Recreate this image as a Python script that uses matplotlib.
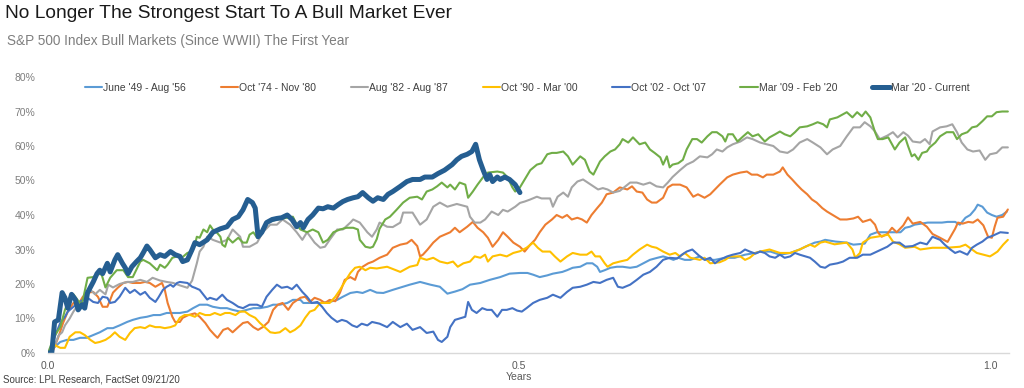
import matplotlib
matplotlib.use('Agg')
import matplotlib.pyplot as plt
from matplotlib.ticker import FuncFormatter

plt.rcParams['font.family'] = ['Liberation Sans', 'DejaVu Sans']

# (years since start, % gain)
jun49 = [(0, 0), (.007, 1.7), (.013, 3.2), (.020, 3.8), (.027, 3.8), (.034, 4.4), (.041, 4.4), (.048, 5.2), (.055, 6), (.063, 7.2),
         (.069, 7.2), (.076, 8), (.084, 9), (.090, 9.6), (.098, 10.2), (.105, 10.5), (.112, 11), (.119, 11), (.126, 11.6), (.133, 11.6),
         (.140, 11.6), (.148, 12), (.154, 13), (.161, 14), (.169, 14), (.175, 13.4), (.183, 13), (.190, 13), (.196, 12.5), (.204, 12),
         (.211, 12.5), (.218, 13), (.225, 13), (.233, 13.4), (.239, 14), (.246, 14), (.254, 14.5), (.260, 15.4), (.268, 15.4), (.271, 14.5),
         (.278, 14.5), (.289, 14.5), (.299, 14.8), (.307, 15.4), (.313, 16.3), (.321, 17.4), (.328, 17.7), (.334, 17.4), (.342, 18.3), (.349, 17.5),
         (.356, 17.4), (.366, 18.3), (.377, 19.2), (.384, 19.8), (.395, 20.6), (.406, 19.8), (.416, 19.2), (.424, 17.2), (.432, 17.8), (.440, 18.5),
         (.448, 19.8), (.459, 20.3), (.469, 21.2), (.480, 22), (.490, 23), (.501, 23.2), (.509, 23.2), (.515, 22.7), (.522, 22), (.530, 22.5),
         (.536, 23), (.546, 23.5), (.551, 24), (.557, 24.7), (.565, 25), (.572, 26), (.578, 26), (.583, 25), (.586, 23.5), (.591, 24),
         (.597, 24.7), (.604, 25), (.610, 25), (.618, 24.7), (.625, 25), (.632, 26), (.639, 27), (.647, 27.6), (.653, 28), (.658, 27.6),
         (.664, 27), (.669, 27.6), (.676, 27), (.682, 27), (.692, 28), (.698, 27), (.708, 27), (.719, 27.6), (.729, 27.6), (.740, 28.5),
         (.751, 29), (.756, 29.4), (.767, 29.4), (.777, 28.5), (.788, 29), (.798, 30), (.804, 30.8), (.809, 31.4), (.814, 32), (.820, 32.3),
         (.825, 32.8), (.836, 32.3), (.848, 32), (.855, 31.4), (.867, 31.7), (.873, 34.3), (.880, 35), (.894, 35), (.905, 35), (.910, 36.3),
         (.915, 36.6), (.920, 37.2), (.934, 37.8), (.949, 37.8), (.955, 38), (.963, 38), (.968, 37.2), (.974, 39.2), (.979, 40), (.984, 41.6),
         (.987, 43), (.992, 42.4), (.997, 40.7), (1.002, 40), (1.007, 39.5), (1.013, 40), (1.018, 41)]

oct74 = [(0, 0), (.005, .5), (.011, 4.6), (.016, 8.7), (.021, 12), (.027, 14.5), (.032, 14), (.037, 16.3), (.042, 17.5), (.048, 17.7),
         (.053, 16.3), (.058, 13.4), (.063, 13.4), (.066, 15.4), (.069, 17.5), (.074, 18.9), (.080, 20.3), (.085, 20.6), (.090, 20.3), (.098, 20.3),
         (.103, 20.6), (.108, 20.3), (.114, 19.2), (.121, 20.3), (.124, 18.3), (.127, 14.5), (.132, 10.5), (.135, 9), (.140, 9), (.143, 10.2),
         (.149, 11), (.156, 11.5), (.161, 10.5), (.167, 8.7), (.172, 6.7), (.177, 5.2), (.180, 4.4), (.186, 6.7), (.191, 7.2), (.196, 6),
         (.202, 7.5), (.207, 8.7), (.212, 9), (.218, 7.5), (.223, 6.7), (.228, 7.5), (.234, 9), (.239, 12.5), (.244, 14), (.249, 14.5),
         (.255, 12.5), (.260, 14.5), (.268, 16), (.273, 16.3), (.278, 14.8), (.283, 16), (.289, 15.4), (.294, 14.5), (.299, 15.4), (.305, 15),
         (.310, 17.5), (.315, 21.2), (.321, 22), (.326, 21.2), (.329, 23.5), (.334, 25), (.340, 26), (.345, 26.5), (.352, 27.6), (.360, 28.5),
         (.366, 30.5), (.374, 31.4), (.381, 31.8), (.386, 32.8), (.392, 31), (.395, 28), (.398, 28.5), (.403, 30), (.409, 32), (.416, 33.7),
         (.421, 34.3), (.427, 35), (.432, 36.3), (.437, 35), (.445, 36.6), (.451, 38), (.456, 36.3), (.462, 35), (.467, 33.4), (.472, 30.8),
         (.478, 32.8), (.483, 35), (.488, 33.7), (.494, 32), (.501, 30.8), (.506, 29.4), (.512, 31.4), (.517, 32.8), (.522, 35), (.528, 37.2),
         (.535, 38.7), (.540, 40), (.546, 39.2), (.551, 40), (.556, 38.7), (.562, 39.2), (.567, 38.7), (.572, 37.8), (.577, 40), (.583, 42),
         (.588, 43.6), (.593, 46), (.600, 46.5), (.607, 48), (.615, 47.4), (.620, 48.3), (.625, 46.8), (.631, 46.5), (.636, 44.5), (.641, 43.6),
         (.646, 43.6), (.653, 45), (.658, 48), (.663, 48.8), (.671, 48.8), (.678, 48), (.685, 45.3), (.690, 46), (.697, 45), (.703, 46),
         (.708, 47.4), (.713, 48.8), (.721, 50.9), (.727, 51.7), (.735, 52.3), (.742, 52.6), (.747, 51.7), (.753, 51.7), (.759, 50.9), (.763, 51.7),
         (.770, 51.7), (.777, 52.6), (.780, 53.8), (.785, 51.7), (.790, 50.3), (.795, 48.8), (.800, 47.4), (.806, 46), (.811, 44.5), (.816, 43.6),
         (.822, 42), (.827, 41), (.833, 40), (.841, 38.7), (.848, 38.7), (.855, 39), (.860, 39.5), (.865, 38), (.873, 38.7), (.878, 37.2),
         (.881, 35), (.885, 33.7), (.891, 34.5), (.896, 36.3), (.901, 35), (.908, 37), (.913, 39.3), (.918, 37.5), (.926, 38), (.933, 36.6),
         (.939, 34.5), (.947, 33.4), (.955, 32.2), (.963, 36), (.966, 37.8), (.971, 37.5), (.977, 38), (.982, 37.8), (.987, 38.7), (.993, 37),
         (.998, 33.7), (1.002, 33.4), (1.005, 36.6), (1.008, 39.2), (1.014, 39.5), (1.019, 41.6)]

aug82 = [(0, 0), (.007, 2), (.011, 5), (.015, 6), (.018, 8), (.023, 10), (.027, 12), (.032, 14), (.037, 15.4), (.045, 18.3),
         (.050, 17), (.055, 18.3), (.061, 17), (.064, 19.8), (.069, 19), (.076, 20), (.084, 20.6), (.090, 20.6), (.098, 21.2), (.105, 20.6),
         (.111, 21.8), (.119, 21), (.126, 20.6), (.133, 20.3), (.140, 19.6), (.148, 18.9), (.153, 21), (.158, 26), (.161, 29.4), (.165, 30.8),
         (.169, 33.7), (.175, 32.8), (.183, 32), (.190, 32.8), (.196, 35.8), (.204, 33.7), (.207, 30.8), (.214, 30.8), (.222, 32), (.228, 35),
         (.236, 37.2), (.243, 37.2), (.249, 38.7), (.257, 37.2), (.264, 35), (.270, 32.8), (.275, 35), (.283, 32), (.289, 30.5), (.294, 30.8),
         (.299, 32.8), (.307, 35.8), (.313, 35.8), (.321, 37.8), (.324, 38.7), (.331, 37.8), (.339, 35), (.344, 33.7), (.349, 35.8), (.352, 37.8),
         (.360, 36.6), (.366, 36.5), (.374, 37.8), (.377, 40.7), (.387, 40.7), (.395, 37.2), (.402, 38.7), (.409, 42.4), (.416, 43.6), (.424, 42.4),
         (.434, 43.2), (.445, 42.4), (.448, 39.5), (.453, 37.8), (.459, 37.8), (.464, 38.7), (.471, 41), (.478, 40), (.483, 41.5), (.488, 41),
         (.496, 42.4), (.501, 43.5), (.506, 43.9), (.512, 44.5), (.519, 45.3), (.524, 44.8), (.533, 44.8), (.536, 42.4), (.541, 45.3), (.547, 46.5),
         (.552, 45.3), (.556, 48), (.562, 49.7), (.568, 50.3), (.573, 49.4), (.579, 48.3), (.584, 47.4), (.589, 47.8), (.594, 47.4), (.600, 46.5),
         (.607, 47), (.613, 48.3), (.618, 49.4), (.625, 49.4), (.632, 48.8), (.639, 49.4), (.646, 48.3), (.653, 48), (.658, 49.4), (.663, 51),
         (.671, 53), (.678, 54.6), (.685, 55.5), (.692, 57), (.700, 56.7), (.705, 57.6), (.710, 59), (.716, 58.4), (.721, 59.6), (.727, 60.5),
         (.735, 61.3), (.742, 62.5), (.748, 62), (.756, 61), (.763, 60.5), (.770, 60), (.777, 58.4), (.785, 58), (.791, 59), (.798, 61),
         (.806, 62), (.812, 61), (.820, 59.6), (.827, 57.6), (.833, 59), (.841, 60), (.848, 62.8), (.855, 65.4), (.862, 65.4), (.867, 66.9),
         (.873, 65.7), (.878, 64.2), (.883, 62), (.891, 63), (.897, 64), (.902, 62.5), (.908, 64), (.913, 63), (.918, 61.3), (.926, 61),
         (.931, 62), (.936, 60.5), (.939, 64.2), (.947, 65.4), (.954, 65.7), (.960, 66.3), (.965, 64), (.970, 61), (.976, 59), (.982, 58.4),
         (.989, 58.7), (.995, 56), (1.000, 57.6), (1.007, 58), (1.013, 59.6), (1.019, 59.6)]

oct90 = [(0, 0), (.007, 2.3), (.013, 1.5), (.018, 1.5), (.023, 4.7), (.029, 6), (.034, 6), (.039, 5.2), (.045, 3.8), (.050, 2.9),
         (.055, 3.2), (.061, 3.8), (.066, 4.7), (.071, 6), (.076, 4.7), (.082, 3.8), (.087, 5.8), (.092, 7.2), (.098, 7.5), (.103, 7.2),
         (.108, 8), (.114, 7.5), (.119, 7.5), (.124, 7.2), (.130, 7.5), (.135, 8), (.140, 10.2), (.145, 11), (.151, 11), (.156, 10.5),
         (.161, 11.6), (.167, 11), (.172, 11), (.177, 11.6), (.183, 11), (.188, 11.6), (.193, 11.6), (.199, 11), (.204, 12), (.209, 12),
         (.214, 11), (.220, 10.2), (.225, 8.7), (.230, 7.5), (.236, 6), (.241, 5.8), (.246, 6), (.252, 7.2), (.257, 6), (.262, 6.7),
         (.268, 8), (.273, 10.2), (.278, 12), (.283, 12.5), (.289, 14.5), (.299, 14.5), (.305, 16.3), (.310, 18.3), (.315, 20.6), (.321, 23.2),
         (.326, 24.7), (.331, 25), (.337, 24), (.342, 24.7), (.349, 24.5), (.360, 25), (.374, 23.5), (.384, 25), (.392, 25.5), (.395, 27.6),
         (.402, 27), (.409, 27.6), (.416, 26.5), (.424, 26), (.430, 26.5), (.435, 25), (.441, 26), (.448, 26.5), (.453, 28), (.459, 27.6),
         (.464, 28.5), (.467, 26.5), (.472, 28), (.480, 28.5), (.487, 28), (.494, 29), (.501, 29.5), (.508, 30.5), (.515, 32), (.520, 30.5),
         (.525, 29.4), (.533, 29.4), (.538, 28), (.544, 26.5), (.551, 28), (.557, 29), (.565, 28.5), (.572, 28.5), (.577, 29.4), (.581, 28),
         (.586, 28), (.591, 26), (.594, 25), (.600, 26), (.607, 26.5), (.615, 27), (.621, 28.5), (.628, 30), (.636, 31.4), (.641, 30.8),
         (.646, 30.5), (.653, 29.4), (.660, 28.5), (.666, 29), (.671, 28), (.676, 29), (.682, 27.6), (.692, 27), (.697, 27.6), (.703, 26),
         (.713, 26.3), (.719, 27), (.724, 28), (.735, 28), (.740, 27), (.745, 27.6), (.751, 29), (.756, 29.4), (.766, 30), (.777, 29),
         (.788, 29), (.798, 30), (.804, 30.8), (.809, 31.4), (.814, 30.8), (.820, 32), (.825, 32.3), (.835, 31.5), (.848, 32), (.854, 30),
         (.857, 27.6), (.862, 29), (.865, 32), (.873, 33.4), (.880, 33.7), (.892, 34.3), (.897, 32.3), (.904, 31.5), (.910, 30.5), (.920, 30.8),
         (.926, 30), (.939, 30.5), (.954, 30.5), (.968, 30.8), (.974, 31.4), (.981, 30), (.986, 29), (.993, 28.5), (1.000, 28), (1.003, 28.5),
         (1.008, 29.4), (1.014, 31.4), (1.019, 32.8)]

oct02 = [(0, 0), (.002, 0), (.007, 4.6), (.013, 8.7), (.018, 10.5), (.021, 12), (.027, 13.4), (.032, 14.5), (.037, 15.4), (.042, 16),
         (.048, 14.8), (.053, 14.5), (.058, 16.3), (.063, 16), (.066, 14.5), (.071, 14.8), (.076, 16.3), (.082, 18.9), (.087, 17.4), (.092, 18.3),
         (.098, 16.9), (.103, 17.7), (.108, 16), (.114, 14.8), (.117, 16), (.122, 18.3), (.126, 19.2), (.130, 19.8), (.133, 19.2), (.137, 20.3),
         (.140, 20.6), (.148, 20.3), (.153, 19.2), (.156, 18.9), (.161, 18.3), (.165, 16.9), (.169, 15.5), (.172, 16), (.179, 15.4), (.185, 16.9),
         (.190, 15.4), (.196, 14.5), (.202, 13.4), (.207, 13), (.214, 14), (.222, 14), (.227, 13.4), (.232, 16.3), (.238, 18.3), (.243, 19.8),
         (.248, 18.9), (.254, 19.2), (.259, 18.5), (.264, 19.8), (.270, 17.7), (.275, 16.3), (.280, 14.5), (.286, 14.8), (.291, 13.4), (.296, 11.6),
         (.301, 10.2), (.307, 9), (.312, 9.6), (.317, 9.2), (.323, 8), (.328, 7.5), (.333, 8.5), (.339, 8), (.344, 9), (.352, 8.5),
         (.360, 7.5), (.366, 9), (.374, 7.5), (.381, 8.5), (.387, 6.7), (.395, 7.5), (.402, 5.8), (.409, 6.2), (.414, 3.8), (.418, 3.2),
         (.424, 4.7), (.427, 7.5), (.432, 9.6), (.437, 10), (.443, 10.5), (.446, 14.8), (.450, 12.5), (.455, 11.6), (.461, 13), (.466, 12.5),
         (.471, 12.5), (.477, 10.5), (.482, 12.5), (.487, 12.5), (.493, 13), (.498, 12.3), (.503, 12), (.508, 13), (.515, 14.5), (.522, 15.4),
         (.530, 16), (.536, 16.9), (.544, 16), (.551, 17.7), (.557, 18.9), (.565, 19.2), (.572, 19.8), (.579, 20.6), (.586, 20.3), (.593, 21.2),
         (.600, 21.8), (.605, 19.2), (.610, 18.9), (.618, 19.8), (.625, 21.2), (.632, 22.7), (.639, 23.5), (.646, 25), (.653, 27), (.660, 27.6),
         (.668, 27.4), (.673, 28.5), (.678, 29.4), (.684, 30), (.692, 28), (.697, 27), (.703, 27.6), (.708, 26), (.713, 27), (.721, 28),
         (.727, 28.5), (.735, 29), (.740, 30), (.745, 29.4), (.751, 28.8), (.756, 29.4), (.761, 29), (.766, 28), (.772, 27.6), (.777, 28.5),
         (.782, 27.6), (.788, 28), (.793, 29), (.798, 28.5), (.804, 28), (.809, 27.6), (.814, 26.5), (.820, 25), (.825, 24.7), (.830, 25.6),
         (.838, 26), (.844, 26.5), (.851, 27.6), (.859, 27.6), (.865, 28.5), (.873, 28.5), (.880, 29.4), (.891, 30.8), (.897, 32), (.904, 32),
         (.910, 30.8), (.918, 31), (.926, 32), (.933, 31.5), (.939, 33.7), (.947, 32.8), (.952, 31.4), (.958, 30), (.963, 29), (.968, 29.5),
         (.976, 28.5), (.981, 30.5), (.986, 31.4), (.992, 32.3), (.997, 33.4), (1.003, 34), (1.011, 35), (1.019, 34.8)]

mar09 = [(0, 0), (.007, 5), (.013, 7.5), (.018, 12.5), (.023, 16), (.027, 17), (.031, 15.5), (.036, 14), (.042, 21.8), (.048, 22),
         (.053, 23), (.057, 22.7), (.061, 19), (.066, 21.8), (.073, 24), (.080, 24), (.085, 22), (.090, 22), (.098, 26.5), (.101, 27),
         (.108, 26), (.116, 24), (.119, 25.6), (.124, 24.7), (.127, 25.6), (.132, 27.6), (.137, 28), (.142, 27.6), (.148, 29), (.153, 29.4),
         (.156, 31.4), (.158, 33.7), (.161, 33.4), (.165, 35.8), (.169, 35), (.172, 37), (.175, 35.8), (.179, 35), (.183, 33.7), (.185, 31.4),
         (.188, 30.8), (.191, 33.4), (.196, 32), (.202, 33.4), (.207, 32), (.211, 32), (.214, 34.3), (.218, 35), (.222, 33.4), (.228, 35.8),
         (.232, 37.8), (.243, 38.7), (.254, 39.2), (.260, 39.5), (.264, 37.2), (.268, 35.8), (.275, 35), (.281, 35.8), (.287, 35), (.292, 32),
         (.297, 32.8), (.303, 35), (.310, 35.8), (.317, 36.3), (.324, 36.3), (.329, 35.8), (.331, 32.8), (.337, 30.8), (.342, 30.5), (.345, 30.8),
         (.349, 33), (.352, 36), (.358, 38.7), (.363, 39.5), (.370, 41.5), (.377, 43.6), (.384, 45), (.392, 45.3), (.397, 44.5), (.402, 46.8),
         (.408, 47.4), (.413, 48.3), (.418, 49.4), (.424, 48), (.427, 48.8), (.432, 47.4), (.437, 49.4), (.443, 48.8), (.446, 45), (.451, 46.8),
         (.456, 48.8), (.462, 51), (.467, 52.3), (.477, 52.6), (.483, 52.3), (.488, 50.9), (.493, 48), (.496, 46.8), (.501, 48), (.506, 50.3),
         (.512, 53), (.519, 54.6), (.524, 55), (.530, 57.6), (.535, 58), (.540, 58), (.547, 58.4), (.552, 57), (.557, 54.6), (.565, 57),
         (.570, 56), (.575, 52.6), (.579, 51.7), (.586, 55.5), (.591, 57), (.597, 58.4), (.602, 59), (.607, 60.5), (.610, 62), (.616, 61),
         (.621, 62.5), (.628, 60.5), (.634, 61), (.639, 59), (.644, 58), (.650, 56.7), (.653, 54.6), (.657, 57), (.660, 53.8), (.663, 54.6),
         (.669, 55), (.674, 56), (.678, 59), (.684, 62), (.689, 62), (.694, 61), (.700, 62.8), (.705, 64), (.710, 64), (.716, 62.8),
         (.719, 61.3), (.722, 63.4), (.727, 63.4), (.732, 61.3), (.738, 62.8), (.743, 64), (.748, 62.8), (.754, 63.4), (.761, 61.3), (.766, 62.5),
         (.772, 63.4), (.777, 64.2), (.782, 63.4), (.788, 62.8), (.793, 64), (.798, 65.4), (.806, 65.7), (.812, 66.3), (.817, 66.9), (.823, 66.3),
         (.827, 65.4), (.830, 67.7), (.838, 68.3), (.844, 69.2), (.848, 69.8), (.854, 68.3), (.859, 69.8), (.864, 68.6), (.868, 70), (.873, 68.3),
         (.878, 64), (.881, 62), (.886, 62), (.892, 62.5), (.899, 59), (.904, 61), (.910, 62.5), (.913, 60), (.917, 57), (.920, 57.6),
         (.924, 56), (.928, 58), (.933, 58.4), (.936, 59.6), (.942, 61), (.947, 62.8), (.954, 64), (.961, 64), (.965, 62), (.970, 63.4),
         (.976, 64), (.981, 65.4), (.986, 65.7), (.992, 67.2), (.997, 68.6), (1.002, 68.6), (1.007, 69.8), (1.013, 70), (1.019, 70)]

mar20 = [(0, 0), (.004, 0), (.007, 9), (.011, 9.6), (.015, 17.5), (.018, 16), (.021, 13), (.025, 17), (.029, 15.5), (.032, 12.5),
         (.036, 14), (.039, 13), (.042, 17.5), (.048, 20.6), (.052, 23), (.055, 24), (.058, 23), (.063, 26), (.066, 23.5), (.071, 27),
         (.074, 28.5), (.079, 26), (.082, 24.7), (.085, 23), (.089, 25), (.094, 26.5), (.098, 27.6), (.101, 29), (.105, 31), (.108, 30),
         (.114, 27.6), (.119, 28.5), (.124, 28), (.130, 29.4), (.135, 28.5), (.140, 28), (.143, 26.5), (.148, 27), (.153, 30), (.156, 32),
         (.161, 31.4), (.169, 32.8), (.175, 35), (.183, 36), (.190, 36.6), (.196, 38.7), (.202, 39.5), (.207, 41.5), (.212, 44.5), (.217, 43.6),
         (.220, 42), (.223, 33.7), (.227, 35), (.232, 37.8), (.238, 38.7), (.243, 39), (.248, 39.2), (.254, 40), (.259, 38.7), (.264, 36.6),
         (.268, 37.8), (.271, 36.3), (.276, 38.7), (.281, 40), (.287, 42), (.292, 41.8), (.297, 42.4), (.303, 42), (.308, 43), (.313, 43.9),
         (.318, 44.5), (.324, 45), (.329, 45.3), (.334, 46.5), (.340, 45), (.345, 44), (.350, 45), (.356, 44.5), (.361, 46), (.366, 46.8),
         (.374, 48.3), (.381, 49.7), (.387, 50.3), (.395, 50.3), (.400, 51), (.408, 51), (.414, 52), (.421, 53), (.429, 54.6), (.434, 56),
         (.439, 57), (.445, 57.6), (.450, 58.4), (.454, 60.5), (.458, 56), (.462, 53), (.466, 50.3), (.469, 51.7), (.472, 49.7), (.477, 51),
         (.480, 50.3), (.485, 51), (.490, 50.3), (.496, 48.8), (.501, 46.5)]

series = [
    ("June '49 - Aug '56", jun49, '#5B9BD5', 1.5),
    ("Oct '74 - Nov '80", oct74, '#ED7D31', 1.5),
    ("Aug '82 - Aug '87", aug82, '#A5A5A5', 1.5),
    ("Oct '90 - Mar '00", oct90, '#FFC000', 1.5),
    ("Oct '02 - Oct '07", oct02, '#4472C4', 1.5),
    ("Mar '09 - Feb '20", mar09, '#70AD47', 1.5),
    ("Mar '20 - Current", mar20, '#255E91', 3.6),
]

fig = plt.figure(figsize=(10.24, 3.88), dpi=100)
ax = fig.add_axes([48 / 1024, 35 / 388, 960.8 / 1024, 276 / 388])

for name, pts, color, lw in series:
    xs = [p[0] for p in pts]
    ys = [p[1] for p in pts]
    ax.plot(xs, ys, color=color, lw=lw, label=name, solid_joinstyle='round', solid_capstyle='round')

ax.set_xlim(0, 1.02)
ax.set_ylim(0, 80)
ax.set_yticks(range(0, 81, 10))
ax.yaxis.set_major_formatter(FuncFormatter(lambda v, p: '%d%%' % v))
ax.set_xticks([0, 0.5, 1.0])
ax.set_xticklabels(['0.0', '0.5', '1.0'])
ax.tick_params(axis='both', length=0, labelsize=7.5, labelcolor='#7f7f7f')
ax.tick_params(axis='y', pad=9)
ax.tick_params(axis='x', pad=6, labelcolor='#595959')
for s in ['top', 'right', 'left']:
    ax.spines[s].set_visible(False)
ax.spines['bottom'].set_color('#d9d9d9')
ax.spines['bottom'].set_linewidth(1)

ax.set_xlabel('Years', fontsize=7.5, color='#595959')
ax.xaxis.set_label_coords(0.49, -0.068)

ax.legend(loc='center', bbox_to_anchor=(0.4985, 0.96), ncol=7, frameon=False, fontsize=7.5,
          handlelength=1.7, handletextpad=0.1, columnspacing=3.3, labelcolor='#404040')

fig.text(0.005, 0.966, 'No Longer The Strongest Start To A Bull Market Ever', fontsize=13.8,
         color='#1a1a1a', va='center')
fig.text(0.007, 0.894, 'S&P 500 Index Bull Markets (Since WWII) The First Year', fontsize=9.8,
         color='#7f7f7f', va='center')
fig.text(0.003, 0.021, 'Source: LPL Research, FactSet 09/21/20', fontsize=7, color='#404040', va='center')

fig.savefig('out.png', dpi=100)
